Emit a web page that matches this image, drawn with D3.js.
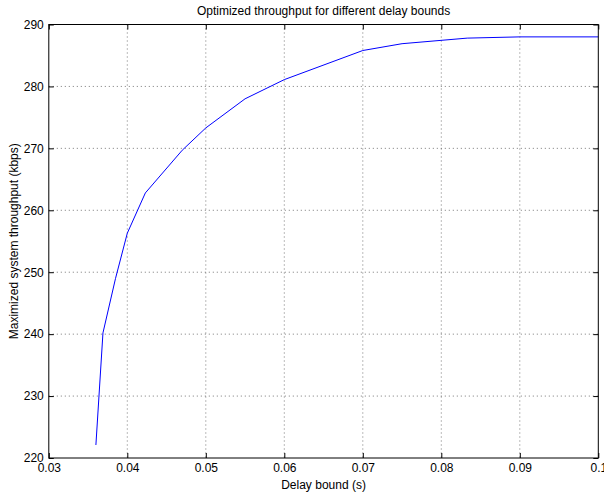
<!DOCTYPE html>
<html><head><meta charset="utf-8">
<script src="https://cdn.jsdelivr.net/npm/d3@7"></script>
<style>body{margin:0;background:#fff}svg{display:block}text{font-family:"Liberation Sans",Arial,sans-serif;fill:#000}</style>
</head><body><svg id="c" width="604" height="494"></svg>
<script>
const delay = [0.0360,0.0369,0.0385,0.0400,0.0423,0.0470,0.0500,0.0550,0.0600,0.0700,0.0750,0.0833,0.0900,0.1000];
const throughput = [222.1,240.2,249.0,256.3,262.8,269.7,273.3,278.0,281.1,285.8,286.9,287.8,288.0,288.0];
const xTicks = [0.03,0.04,0.05,0.06,0.07,0.08,0.09,0.1];
const yTicks = [220,230,240,250,260,270,280,290];

const svg = d3.select("#c");
const L=48.8, R=598.3, T=24.5, B=458;
const x = d3.scaleLinear().domain([0.03,0.1]).range([L,R]);
const y = d3.scaleLinear().domain([220,290]).range([B,T]);

// grid
const g = svg.append("g");
g.selectAll(".gx").data(xTicks.slice(1,-1)).enter().append("line")
 .attr("x1",d=>x(d)).attr("x2",d=>x(d)).attr("y1",T).attr("y2",B)
 .attr("stroke","#555").attr("stroke-width",0.8).attr("stroke-dasharray","1,3");
g.selectAll(".gy").data(yTicks.slice(1,-1)).enter().append("line")
 .attr("y1",d=>y(d)).attr("y2",d=>y(d)).attr("x1",L).attr("x2",R)
 .attr("stroke","#555").attr("stroke-width",0.8).attr("stroke-dasharray","1,3");

// line
svg.append("path").datum(delay.map((d,i)=>[d,throughput[i]]))
 .attr("fill","none").attr("stroke","#0000ff").attr("stroke-width",1)
 .attr("d",d3.line().x(d=>x(d[0])).y(d=>y(d[1])));

// axes
const fmtX = d=>d===0.1?"0.1":d3.format(".2f")(d);
svg.append("g").attr("transform",`translate(0,${B})`)
 .call(d3.axisBottom(x).tickValues(xTicks).tickFormat(fmtX).tickSizeInner(-5).tickSizeOuter(0).tickPadding(5))
 .call(a=>a.select(".domain").remove());
svg.append("g").attr("transform",`translate(0,${T})`)
 .call(d3.axisTop(x).tickValues(xTicks).tickFormat("").tickSizeInner(-5).tickSizeOuter(0))
 .call(a=>a.select(".domain").remove());
svg.append("g").attr("transform",`translate(${L},0)`)
 .call(d3.axisLeft(y).tickValues(yTicks).tickSizeInner(-5).tickSizeOuter(0).tickPadding(5))
 .call(a=>a.select(".domain").remove());
svg.append("g").attr("transform",`translate(${R},0)`)
 .call(d3.axisRight(y).tickValues(yTicks).tickFormat("").tickSizeInner(-5).tickSizeOuter(0))
 .call(a=>a.select(".domain").remove());
svg.selectAll(".tick text").attr("font-size",12).attr("font-family","Liberation Sans, Arial, sans-serif").attr("fill","#000");
svg.selectAll(".tick line").attr("stroke","#000");

svg.append("rect").attr("x",L).attr("y",T).attr("width",R-L).attr("height",B-T)
 .attr("fill","none").attr("stroke","#000").attr("stroke-width",1);

svg.append("text").attr("x",(L+R)/2).attr("y",15).attr("text-anchor","middle").attr("font-size",12)
 .text("Optimized throughput for different delay bounds");
svg.append("text").attr("x",(L+R)/2).attr("y",489).attr("text-anchor","middle").attr("font-size",12)
 .text("Delay bound (s)");
svg.append("text").attr("transform",`translate(18,${(T+B)/2}) rotate(-90)`).attr("text-anchor","middle").attr("font-size",12)
 .text("Maximized system throughput (kbps)");
</script></body></html>
